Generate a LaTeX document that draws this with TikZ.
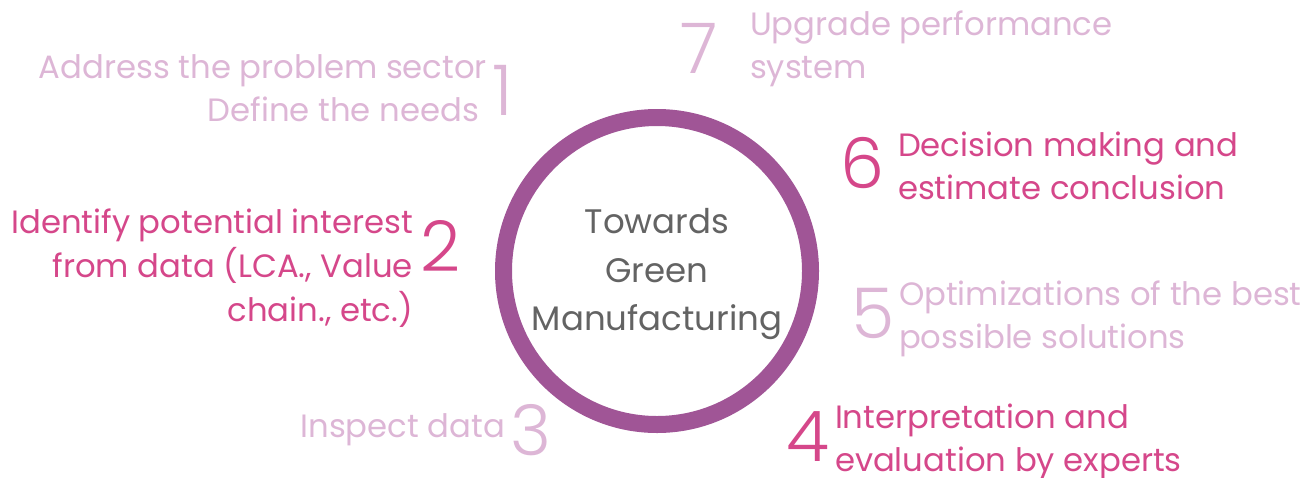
\documentclass[tikz,border=0pt]{standalone}
\usepackage{fontspec}
\setmainfont{Poppins}
\newfontfamily\digfont{Poppins Light}
\definecolor{ringc}{HTML}{A05596}
\definecolor{lightc}{HTML}{DDB6D6}
\definecolor{magc}{HTML}{D5478A}
\definecolor{greyc}{HTML}{636363}
\tikzset{
  txt/.style={inner sep=0pt, outer sep=0pt, font=\fontsize{32.3}{38}\selectfont},
  dig/.style={inner sep=0pt, outer sep=0pt, font=\digfont\fontsize{70}{80}\selectfont},
  lt/.style={text=lightc},
  mg/.style={text=magc},
  ctr/.style={inner sep=0pt, text=greyc, font=\fontsize{34}{40}\selectfont, anchor=base},
  ringstyle/.style={draw=ringc, line width=17pt},
}
\begin{document}
\begin{tikzpicture}[x=1pt,y=-1pt]
\useasboundingbox (0,0) rectangle (1316,477);
% ring
\node[ringstyle, circle, minimum size=307pt, inner sep=0pt] (ring) at (657,271) {};
\node[ctr] (c1) at (657,233) {Towards};
\node[ctr] (c2) at (657,282) {Green};
\node[ctr] (c3) at (657,330) {Manufacturing};
% 1
\node[txt,lt,anchor=base east] (t1a) at (487,78) {Address the problem sector};
\node[txt,lt,anchor=base east] (t1b) at (479,121) {Define the needs};
\node[dig,lt,anchor=base west] (d1) at (492,115) {1};
% 2
\node[txt,mg,anchor=base east] (t2a) at (413,233) {Identify potential interest};
\node[txt,mg,anchor=base east] (t2b) at (413,277) {from data (LCA., Value};
\node[txt,mg,anchor=base east] (t2c) at (413,321) {chain., etc.)};
\node[dig,mg,anchor=base west] (d2) at (420,271) {2};
% 3
\node[txt,lt,anchor=base east] (t3a) at (505,437) {Inspect data};
\node[dig,lt,anchor=base west] (d3) at (510,455) {3};
% 4
\node[dig,mg,anchor=base west] (d4) at (786,461) {4};
\node[txt,mg,anchor=base west] (t4a) at (835,428) {Interpretation and};
\node[txt,mg,anchor=base west] (t4b) at (835,471) {evaluation by experts};
% 5
\node[dig,lt,anchor=base west] (d5) at (851,338) {5};
\node[txt,lt,anchor=base west] (t5a) at (899,305) {Optimizations of the best};
\node[txt,lt,anchor=base west] (t5b) at (899,348) {possible solutions};
% 6
\node[dig,mg,anchor=base west] (d6) at (840,188) {6};
\node[txt,mg,anchor=base west] (t6a) at (898,156) {Decision making and};
\node[txt,mg,anchor=base west] (t6b) at (898,199) {estimate conclusion};
% 7
\node[dig,lt,anchor=base west] (d7) at (680,73) {7};
\node[txt,lt,anchor=base west] (t7a) at (750,35) {Upgrade performance};
\node[txt,lt,anchor=base west] (t7b) at (750,78) {system};
\end{tikzpicture}
\end{document}
